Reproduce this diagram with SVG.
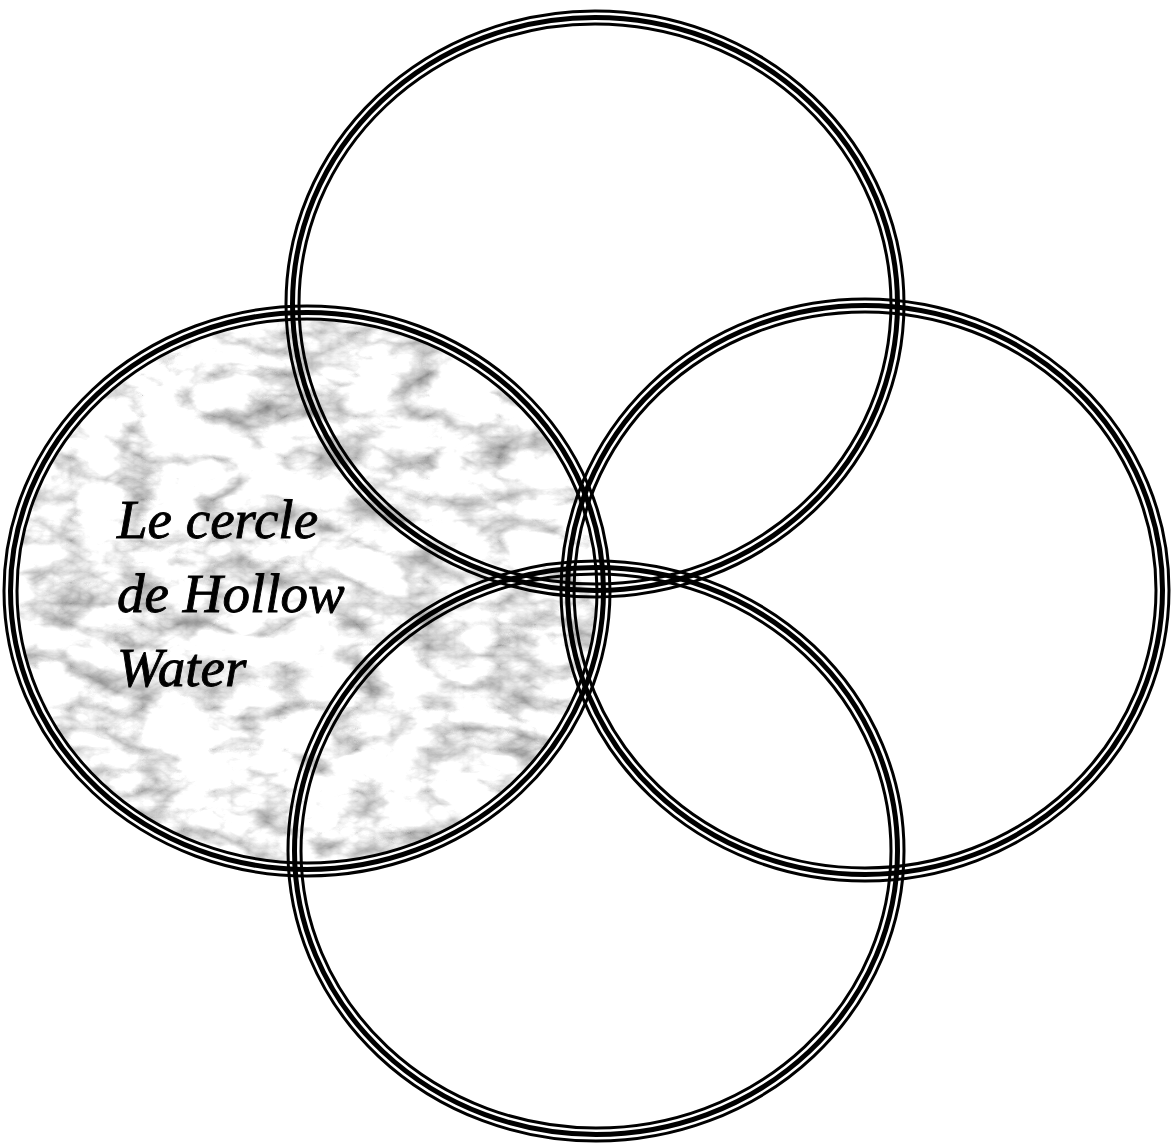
<svg xmlns="http://www.w3.org/2000/svg" width="1172" height="1145" viewBox="0 0 1172 1145">
  <style>
    .thin { fill: none; stroke: #000; stroke-width: 3; }
    .thick { fill: none; stroke: #000; stroke-width: 5; }
    .label { font-family: "Liberation Serif", "DejaVu Serif", serif; font-style: italic; font-size: 55px; fill: #000; stroke: #000; stroke-width: 0.9; }
  </style>
  <defs>
    <filter id="marble" x="0" y="0" width="1" height="1" filterUnits="objectBoundingBox" color-interpolation-filters="sRGB">
      <feTurbulence type="fractalNoise" baseFrequency="0.018 0.03" numOctaves="4" seed="3" result="a0"/>
      <feColorMatrix in="a0" type="matrix" values="1 0 0 0 0  1 0 0 0 0  1 0 0 0 0  0 0 0 0 1" result="a"/>
      <feTurbulence type="turbulence" baseFrequency="0.014 0.024" numOctaves="5" seed="11" result="b0"/>
      <feColorMatrix in="b0" type="matrix" values="1 0 0 0 0  1 0 0 0 0  1 0 0 0 0  0 0 0 0 1" result="b"/>
      <feComposite in="a" in2="b" operator="arithmetic" k1="0" k2="0.7" k3="0.75" k4="0.36" result="m"/>
      <feComposite in="m" in2="SourceGraphic" operator="in"/>
    </filter>
  </defs>
  <rect width="1172" height="1145" fill="#fff"/>
  <g id="left-fill">
    <ellipse cx="307" cy="591" rx="291" ry="273" fill="#e6e6e6" filter="url(#marble)"/>
  </g>
  <g id="circle-top">
    <ellipse class="thin" cx="595" cy="304" rx="309" ry="293"/>
    <ellipse class="thick" cx="595" cy="304" rx="302.5" ry="286.5"/>
    <ellipse class="thin" cx="595" cy="304" rx="296" ry="280"/>
  </g>
  <g id="circle-left">
    <ellipse class="thin" cx="307" cy="591" rx="303" ry="285"/>
    <ellipse class="thick" cx="307" cy="591" rx="296.5" ry="278.5"/>
    <ellipse class="thin" cx="307" cy="591" rx="290" ry="272"/>
  </g>
  <g id="circle-right">
    <ellipse class="thin" cx="865" cy="590" rx="304" ry="291"/>
    <ellipse class="thick" cx="865" cy="590" rx="297.5" ry="284.5"/>
    <ellipse class="thin" cx="865" cy="590" rx="291" ry="278"/>
  </g>
  <g id="circle-bottom">
    <ellipse class="thin" cx="596" cy="851" rx="308" ry="290"/>
    <ellipse class="thick" cx="596" cy="851" rx="301.5" ry="283.5"/>
    <ellipse class="thin" cx="596" cy="851" rx="295" ry="277"/>
  </g>
  <g id="label">
    <text class="label" x="117" y="538">Le cercle</text>
    <text class="label" x="117" y="612">de Hollow</text>
    <text class="label" x="117" y="686">Water</text>
  </g>
  <g id="connectors"></g>
</svg>
